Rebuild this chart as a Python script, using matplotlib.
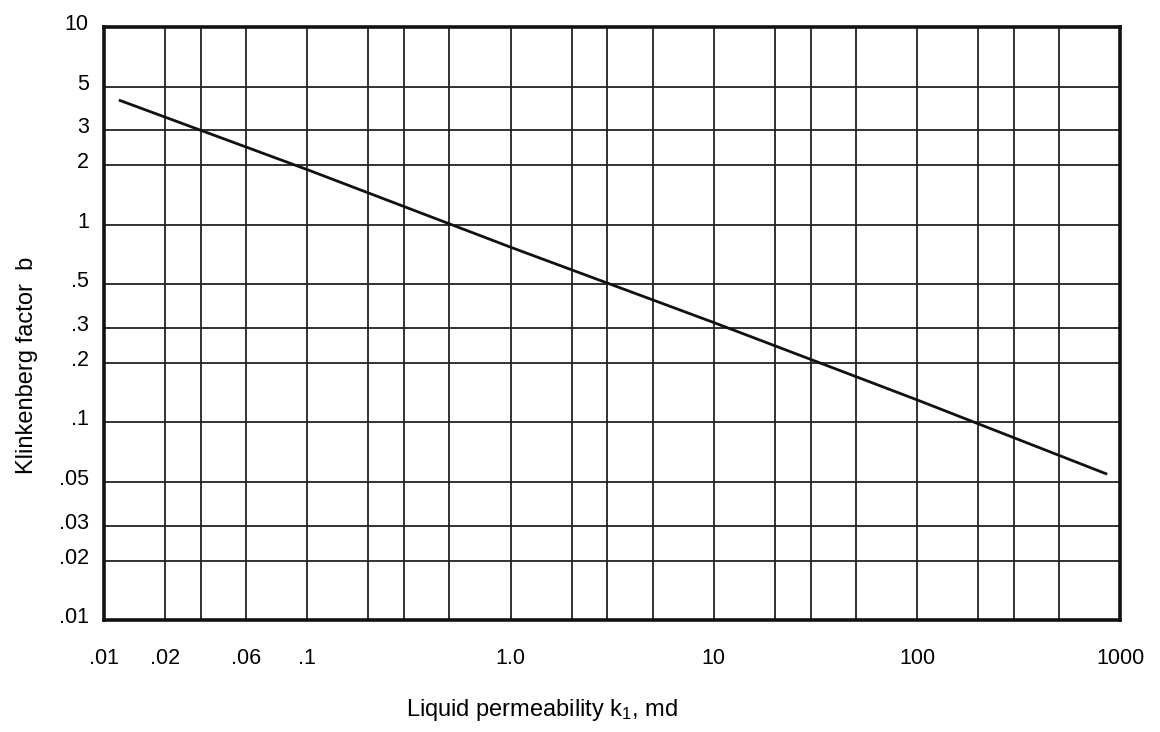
import matplotlib
matplotlib.use("Agg")
import matplotlib.pyplot as plt
import matplotlib.transforms as mtransforms
from matplotlib.ticker import FixedLocator, NullLocator

plt.rcParams['font.family'] = ['Liberation Sans', 'DejaVu Sans']
plt.rcParams['mathtext.fontset'] = 'custom'
plt.rcParams['mathtext.rm'] = 'Liberation Sans'
plt.rcParams['mathtext.it'] = 'Liberation Sans'

# Klinkenberg factor vs liquid permeability
perm_md = [0.012, 0.1, 1.0, 10, 100, 850]
klink_b = [4.25, 1.9, 0.77, 0.32, 0.13, 0.055]

# grid lines at 1, 2, 3, 5 in each decade
x_grid = [m * 10.0 ** e for e in range(-2, 3) for m in (1, 2, 3, 5)] + [1000]
y_grid = [m * 10.0 ** e for e in range(-2, 1) for m in (1, 2, 3, 5)] + [10]

x_ticks = [0.01, 0.02, 0.05, 0.1, 1.0, 10, 100, 1000]
x_labels = [".01", ".02", ".06", ".1", "1.0", "10", "100", "1000"]
y_ticks = [0.01, 0.02, 0.03, 0.05, 0.1, 0.2, 0.3, 0.5, 1, 2, 3, 5, 10]
y_labels = [".01", ".02", ".03", ".05", ".1", ".2", ".3", ".5", "1", "2", "3", "5", "10"]

fig = plt.figure(figsize=(11.6, 7.32), dpi=100)
ax = fig.add_axes([0.0897, 0.153, 0.876, 0.81])
ax.set_xscale('log')
ax.set_yscale('log')
ax.set_xlim(0.01, 1000)
ax.set_ylim(0.01, 10)

for xv in x_grid:
    ax.axvline(xv, color='#222222', lw=1.3, zorder=1)
for yv in y_grid:
    ax.axhline(yv, color='#222222', lw=1.3, zorder=1)

ax.plot(perm_md, klink_b, color='#111111', lw=2.0, zorder=3)

ax.xaxis.set_major_locator(FixedLocator(x_ticks))
ax.xaxis.set_minor_locator(NullLocator())
ax.set_xticklabels(x_labels)
ax.yaxis.set_major_locator(FixedLocator(y_ticks))
ax.yaxis.set_minor_locator(NullLocator())
ax.set_yticklabels(y_labels)
ax.tick_params(axis='x', length=0, pad=20, labelsize=15.5)
ax.tick_params(axis='y', length=0, pad=11, labelsize=15.5)

# y labels sit a little above their lines
shift = mtransforms.ScaledTranslation(0, 5 / 100, fig.dpi_scale_trans)
for lbl in ax.get_yticklabels():
    lbl.set_transform(lbl.get_transform() + shift)

for sp in ax.spines.values():
    sp.set_linewidth(2.6)
    sp.set_color('#111111')
    sp.set_zorder(4)

ax.set_xlabel("Liquid permeability k$_1$, md", fontsize=17)
ax.xaxis.set_label_coords(0.431, -0.13)
ax.set_ylabel("Klinkenberg factor  b", fontsize=17)
ax.yaxis.set_label_coords(-0.065, 0.43)

fig.savefig("out.png", dpi=100)
